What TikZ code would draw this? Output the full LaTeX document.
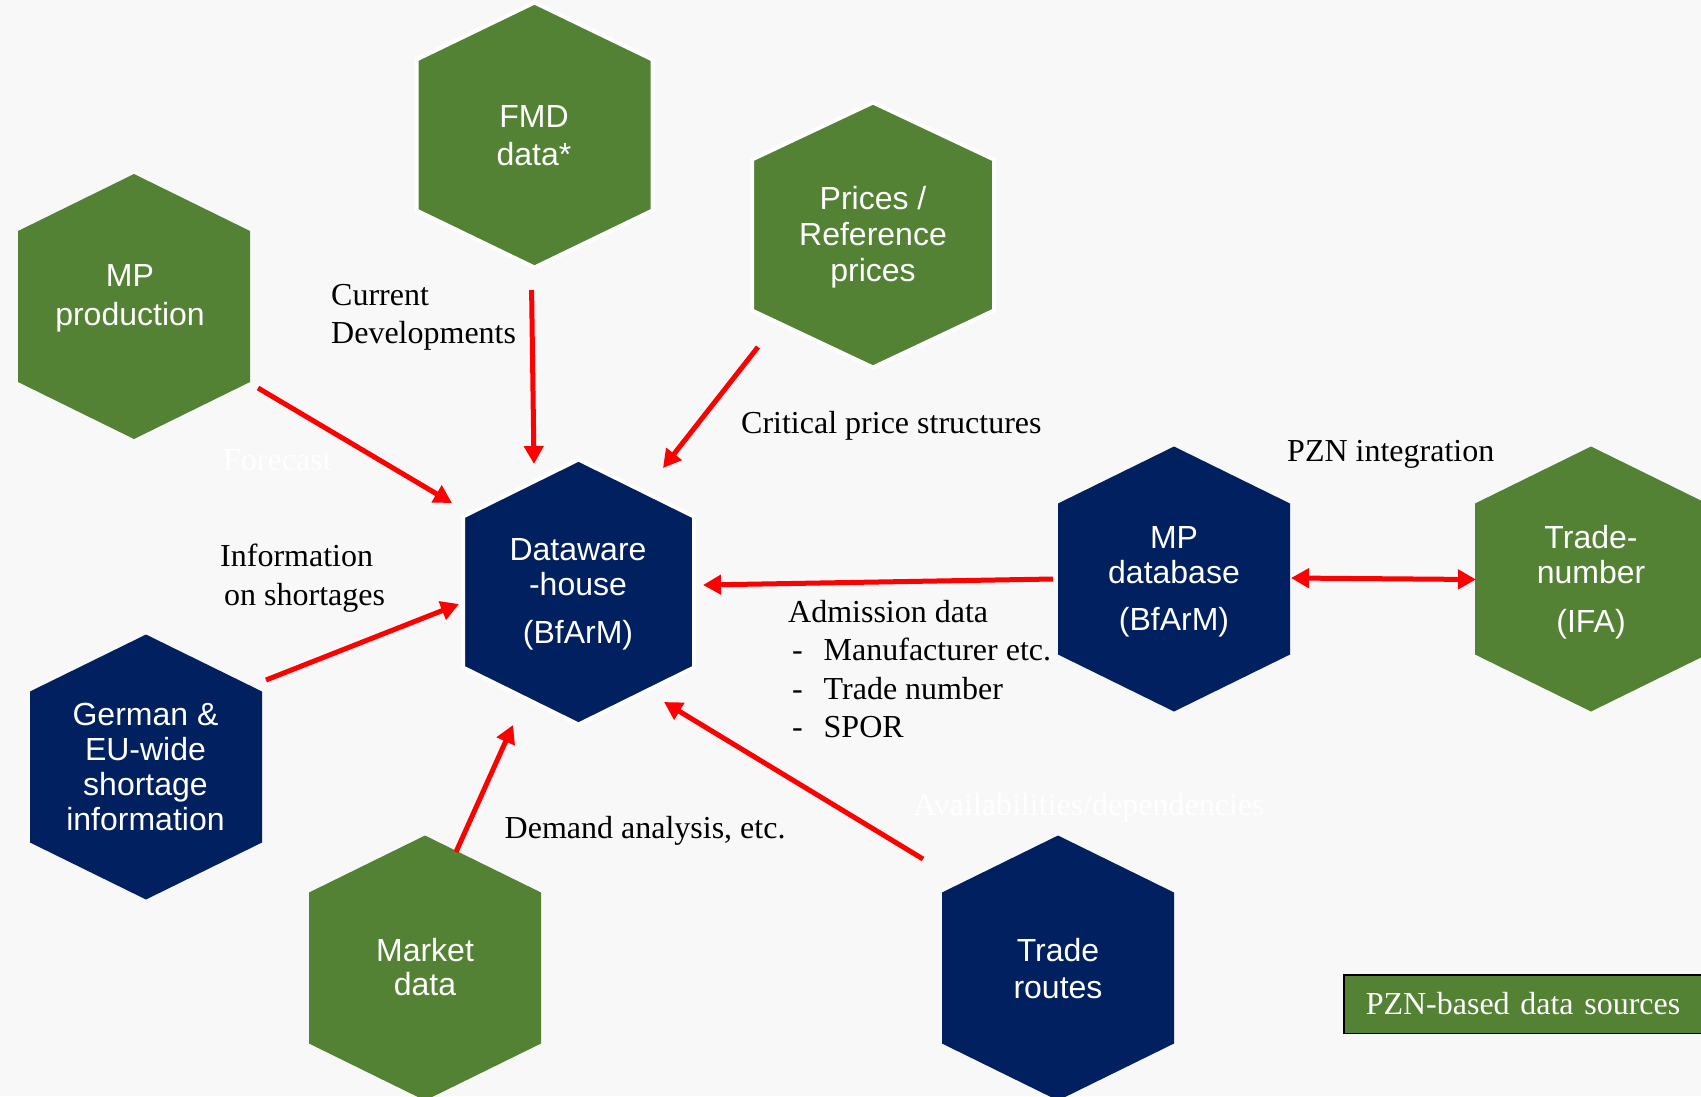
\documentclass[tikz,border=0pt]{standalone}
\usepackage{fontspec}
\setmainfont{Liberation Serif}
\newfontfamily\arialfont{Liberation Sans}
\usetikzlibrary{arrows.meta}
\definecolor{hexgreen}{HTML}{548235}
\definecolor{hexnavy}{HTML}{002060}
\definecolor{arrred}{HTML}{FF0000}
\definecolor{bgcol}{HTML}{F8F8F8}
\begin{document}
\begin{tikzpicture}[x=1pt,y=-1pt,
  hexagon/.pic={\path[pic actions] (-#1,-75.5) -- (0,-132.5) -- (#1,-75.5) -- (#1,75.5) -- (0,132.5) -- (-#1,75.5) -- cycle;},
  hextext/.style={text=white, align=center, inner sep=0pt, font=\arialfont\fontsize{32}{#1}\selectfont},
  hextext/.default=36,
  lbl/.style={text=black, align=left, inner sep=0pt, font=\fontsize{32}{38.5}\selectfont},
  ghost/.style={text=white, inner sep=0pt, font=\fontsize{32}{38.5}\selectfont},
  arr/.style={draw=arrred, line width=5pt, -{Triangle[length=18pt,width=19pt]}},
  dblarr/.style={draw=arrred, line width=5pt, {Triangle[length=18pt,width=19pt]}-{Triangle[length=18pt,width=19pt]}},
  bordered/.style={draw=white, line width=4pt}
]
\useasboundingbox (0,0) rectangle (1701,1096);
\clip (0,0) rectangle (1701,1096);
\fill[bgcol] (0,0) rectangle (1701,1096);

% hexagons
\pic[fill=hexgreen] at (134,306.5) {hexagon=116};
\pic[fill=hexgreen, bordered] at (534.5,135) {hexagon=118};
\pic[fill=hexgreen, bordered] at (873,235) {hexagon=121};
\pic[fill=hexnavy, bordered] at (578.5,592) {hexagon=115.5};
\pic[fill=hexnavy] at (1174,579) {hexagon=116};
\pic[fill=hexgreen] at (1591,579) {hexagon=116};
\pic[fill=hexnavy] at (146,767) {hexagon=116};
\pic[fill=hexgreen] at (425,968) {hexagon=116};
\pic[fill=hexnavy] at (1058,968) {hexagon=116};

% hexagon texts
\node[hextext=39] (mpprod) at (130,298) {MP\\production};
\node[hextext=38] (fmd) at (534,136) {FMD\\data*};
\node[hextext=36] (prices) at (873,237) {Prices /\\Reference\\prices};
\node[hextext=35] (dw) at (578,594) {Dataware\\-house\\[13pt](BfArM)};
\node[hextext=35] (mpdb) at (1174,581.5) {MP\\database\\[12pt](BfArM)};
\node[hextext=35] (tradenum) at (1591,582) {Trade-\\number\\[14pt](IFA)};
\node[hextext=34.7] (german) at (145.5,767) {German \&\\EU-wide\\shortage\\information};
\node[hextext=34] (market) at (425,967) {Market\\data};
\node[hextext=37] (routes) at (1058,968.5) {Trade\\routes};

% arrow end points
\coordinate (a1s) at (258,388);   \coordinate (a1e) at (452,503);
\coordinate (a2s) at (531.6,290); \coordinate (a2e) at (534,464);
\coordinate (a3s) at (758,347);   \coordinate (a3e) at (663,468);
\coordinate (a4s) at (266,680);   \coordinate (a4e) at (459,604);
\coordinate (a5s) at (456,852);   \coordinate (a5e) at (513,725);
\coordinate (a6s) at (923,859);   \coordinate (a6e) at (664,702);
\coordinate (a7s) at (1053,579);  \coordinate (a7e) at (703,585);
\coordinate (a8s) at (1291,578);  \coordinate (a8e) at (1476,579.5);

\draw[arr] (a1s) -- (a1e);
\draw[arr] (a2s) -- (a2e);
\draw[arr] (a3s) -- (a3e);
\draw[arr] (a4s) -- (a4e);
\draw[arr] (a5s) -- (a5e);
\draw[arr] (a6s) -- (a6e);
\draw[arr] (a7s) -- (a7e);
\draw[dblarr] (a8s) -- (a8e);

% labels
\node[lbl, anchor=north west] (curdev) at (331,284) {Current\\Developments};
\node[lbl, anchor=base west] (critprice) at (741,433) {Critical price structures};
\node[lbl, anchor=base west] (pzn) at (1287,461) {PZN integration};
\node[lbl, anchor=north west] (info) at (220,544) {Information\\\hspace*{4pt}on shortages};
\node[lbl, anchor=north west] (admission) at (788,600) {Admission data\\\hspace*{4pt}\makebox[31.5pt][l]{-}Manufacturer etc.\\\hspace*{4pt}\makebox[31.5pt][l]{-}Trade number\\\hspace*{4pt}\makebox[31.5pt][l]{-}SPOR};
\node[lbl, anchor=base west] (demand) at (504.5,838) {Demand analysis, etc.};
\node[ghost, anchor=base west] (forecast) at (223,470) {Forecast};
\node[ghost, anchor=base west] (avail) at (913,815) {Availabilities/dependencies};

% legend
\node[draw=black, line width=1.5pt, fill=hexgreen, text=white, anchor=north west, minimum width=366pt, minimum height=58.5pt, inner sep=0pt, font=\fontsize{32}{38.5}\selectfont, text width=366pt] (legend) at (1343,974) {\hspace*{22pt}PZN-based data sources};
\end{tikzpicture}
\end{document}
